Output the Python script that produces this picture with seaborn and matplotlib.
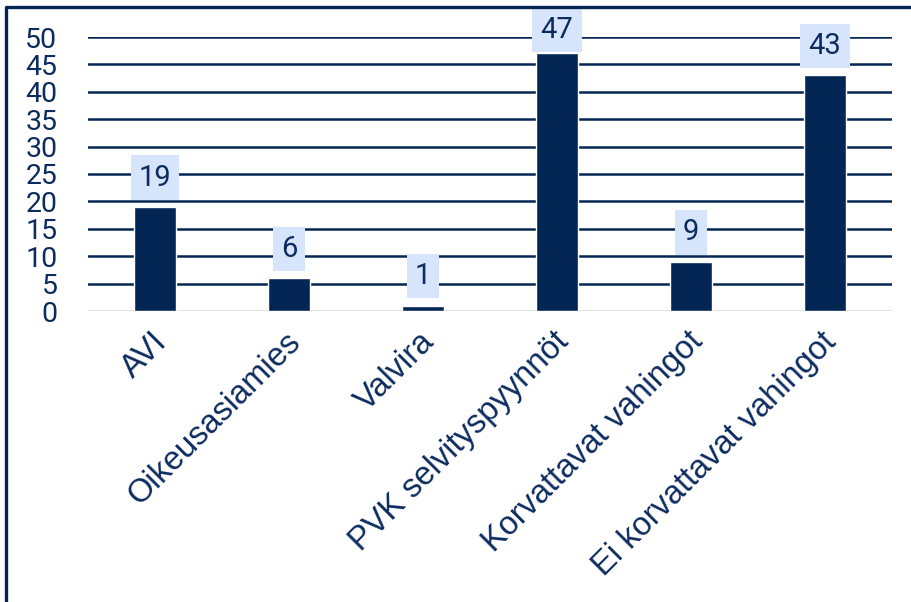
import matplotlib
matplotlib.use("Agg")
import matplotlib.pyplot as plt
import matplotlib.transforms as mtransforms
from matplotlib.lines import Line2D
import seaborn as sns
import pandas as pd

categories = ["AVI", "Oikeusasiamies", "Valvira", "PVK selvityspyynnöt",
              "Korvattavat vahingot", "Ei korvattavat vahingot"]
values = [19, 6, 1, 47, 9, 43]
yticks = [0, 5, 10, 15, 20, 25, 30, 35, 40, 45, 50]

NAVY = "#042654"
TEXT = "#0c2b5e"
BOX = "#d6e5fc"

sns.set_theme(style="white")
plt.rcParams["font.family"] = ["Roboto", "DejaVu Sans"]

df = pd.DataFrame({"cat": categories, "val": values})

fig = plt.figure(figsize=(9.12, 6.02), dpi=100)
ax = fig.add_axes([88/912, 1-311/602, 804/912, 274/602])

sns.barplot(data=df, x="cat", y="val", color=NAVY, width=0.31, ax=ax,
            saturation=1, zorder=3)

ax.set_xlim(-0.5, 5.5)
ax.set_ylim(0, 50)
ax.set_yticks(yticks)
ax.set_yticklabels([str(t) for t in yticks], fontsize=20.5, color=TEXT)
ax.tick_params(axis="y", length=0, pad=22)
ax.tick_params(axis="x", length=0, pad=11)
ax.set_xlabel("")
ax.set_ylabel("")

for t in yticks[1:]:
    ax.axhline(t, color=NAVY, lw=1.8, zorder=1)
ax.axhline(0, color="#d9d9d9", lw=1.8, zorder=2)

for s in ax.spines.values():
    s.set_visible(False)

offset = mtransforms.ScaledTranslation(-4/100, 0, fig.dpi_scale_trans)
for lbl in ax.get_xticklabels():
    lbl.set_rotation(45)
    lbl.set_ha("right")
    lbl.set_rotation_mode("anchor")
    lbl.set_fontsize(23.5)
    lbl.set_color(TEXT)
    lbl.set_fontfamily(["Liberation Sans", "DejaVu Sans"])
    lbl.set_transform(lbl.get_transform() + offset)

# value labels; keep boxes below the frame line at the top
fig_h_px = 602
for i, v in enumerate(values):
    bar_top_px = fig_h_px - ax.transData.transform((i, v))[1]  # from top
    off_px = min(15.3, bar_top_px - 44.0)
    off_pt = off_px * 72 / 100
    ax.annotate(str(v), xy=(i, v), xytext=(0, off_pt), textcoords="offset points",
                ha="center", va="bottom", fontsize=21, color=TEXT, zorder=5,
                annotation_clip=False,
                bbox=dict(boxstyle="square,pad=0.28", fc=BOX, ec="none"))

fig.add_artist(Line2D([6/912, 6/912, 1], [0, 1-6.5/602, 1-6.5/602],
                      color=NAVY, lw=2.4, solid_capstyle="butt"))

fig.savefig("out.png", dpi=100, facecolor="white")
